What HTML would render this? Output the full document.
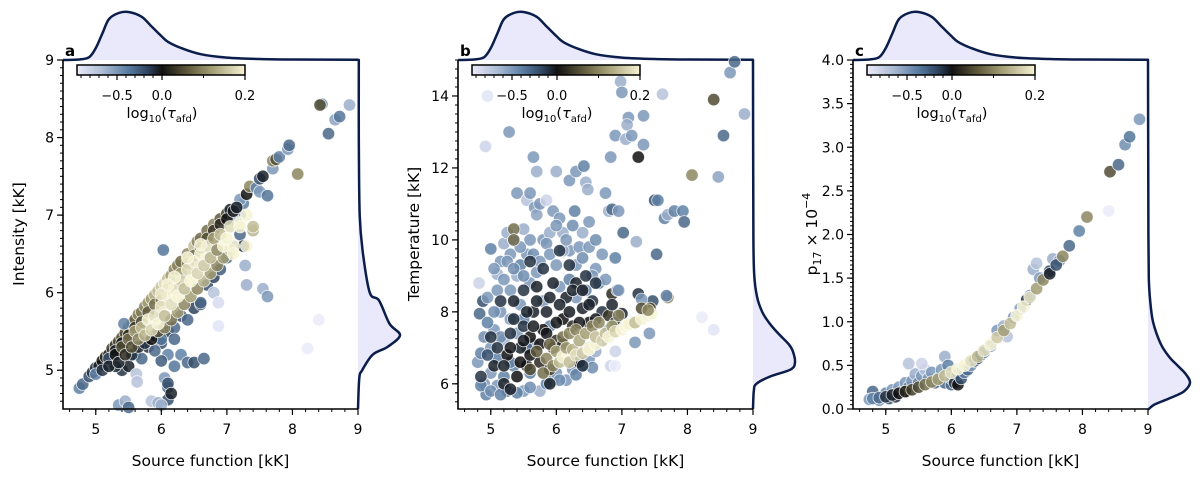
<!DOCTYPE html>
<html><head><meta charset="utf-8"><style>
html,body{margin:0;padding:0;background:#fff;}
svg{display:block;font-family:"DejaVu Sans","Liberation Sans",sans-serif;}
</style></head><body>
<svg id="fig" width="1200" height="478" viewBox="0 0 1200 478" xmlns="http://www.w3.org/2000/svg">
<defs>
<linearGradient id="cmap" x1="0" x2="1" y1="0" y2="0">
<stop offset="0" stop-color="#ebebfa"/><stop offset="0.15" stop-color="#aebdd6"/><stop offset="0.3" stop-color="#5b7ea3"/><stop offset="0.42" stop-color="#2e4560"/><stop offset="0.506" stop-color="#111111"/><stop offset="0.65" stop-color="#5b5538"/><stop offset="0.8" stop-color="#a29c72"/><stop offset="1" stop-color="#f6f3d4"/>
</linearGradient>
</defs>
</svg>
<script>
const kdeTopGrid = [4.5,4.75,4.9,5.0,5.1,5.2,5.35,5.5,5.7,5.85,6.0,6.1,6.3,6.6,7.0,7.5,8.0,9.0];
const kdeTopDens = [0,0.01,0.06,0.25,0.55,0.85,0.98,1.0,0.9,0.7,0.5,0.38,0.25,0.12,0.05,0.02,0.01,0.005];
const kdeAGrid = [4.5,4.9,5.0,5.2,5.3,5.45,5.6,5.9,6.0,6.5,7.0,8.0,9.0];
const kdeADens = [0,0.03,0.1,0.35,0.7,1.0,0.75,0.5,0.28,0.12,0.04,0.02,0.02];
const kdeBGrid = [5.3,5.8,6.0,6.2,6.4,6.6,6.9,7.1,7.4,7.7,8.0,8.4,9.0,10.0,12.0,15.0];
const kdeBDens = [0,0.02,0.08,0.4,0.9,1.0,0.95,0.85,0.6,0.38,0.22,0.1,0.03,0.01,0.005,0];
const kdeCGrid = [0,0.05,0.12,0.2,0.3,0.4,0.5,0.6,0.75,1.0,1.25,1.5,2.0,3.0,4.0];
const kdeCDens = [0.02,0.15,0.5,0.85,1.0,0.9,0.7,0.5,0.3,0.12,0.05,0.02,0.01,0.005,0];

const ptsA = [
[4.75,4.77,-0.4],[4.8,4.82,-0.3],[4.9,4.92,-0.2],[4.95,4.97,-0.1],[5.0,5.03,-0.1],[5.05,5.05,-0.05],[5.1,5.12,0],[5.15,5.17,0.02],[5.2,5.2,0.02],[5.25,5.28,0.03],[5.3,5.32,0.04],[5.35,5.37,0.05],[5.4,5.42,0.06],[5.45,5.48,0.05],[5.5,5.55,0.06],[5.55,5.6,0.08],[5.6,5.65,0.07],[5.65,5.72,0.1],[5.7,5.75,0.09],[5.75,5.82,0.1],[5.8,5.87,0.12],[5.85,5.92,0.12],[5.9,5.97,0.14],[5.95,6.02,0.15],[6.0,6.08,0.16],[6.05,6.12,0.18],[6.1,6.18,0.15],[6.15,6.22,0.12],[6.2,6.3,0.1],[6.25,6.35,0.1],[6.3,6.4,0.08],[6.4,6.5,0.1],[6.5,6.6,0.15],[6.55,6.66,0.1],[6.6,6.7,0.08],[6.7,6.8,0.08],[6.8,6.88,0.1],[6.9,6.95,0.06],[7.0,7.02,0.04],[7.05,7.07,-0.05],
[5.4,5.0,-0.1],[5.5,5.05,-0.05],[5.6,5.2,-0.2],[5.7,5.15,-0.3],[5.8,5.3,-0.1],[5.9,5.45,-0.05],[6.0,5.35,-0.2],[6.1,5.5,-0.1],[6.2,5.55,-0.3],[6.3,5.7,-0.2],[6.4,5.65,-0.3],[6.5,5.8,-0.15],[6.6,5.85,-0.1],[6.7,6.1,-0.2],[6.8,6.2,-0.15],[6.9,6.3,-0.25],[7.0,6.45,-0.3],[7.1,6.6,-0.4],[7.2,6.75,-0.3],[7.2,7.0,-0.4],[7.25,7.15,-0.4],[5.0,4.95,-0.4],[5.2,5.15,-0.2],[5.3,5.05,-0.1],[6.0,5.4,-0.35],[6.1,5.2,-0.4],[6.2,5.05,-0.35],[6.05,4.9,-0.5],[6.1,4.78,-0.3],[6.1,4.83,-0.2],[6.1,4.62,-0.2],[6.15,4.7,-0.05],[6.2,5.4,-0.3],[6.3,5.2,-0.4],[6.4,5.1,-0.3],[6.5,5.1,-0.2],[6.65,5.15,-0.3],[6.0,5.12,-0.25],[5.9,5.25,-0.3],
[6.03,6.55,-0.35],[5.43,5.6,-0.4],[5.35,4.55,-0.5],[5.45,4.6,-0.6],[5.5,4.52,-0.3],[5.62,4.95,-0.7],[5.63,4.85,-0.7],[5.85,4.6,-0.7],[5.95,4.58,-0.6],[6.0,4.55,-0.6],[6.6,5.87,-0.3],[6.8,6.0,-0.7],[6.87,5.87,-0.85],[6.87,5.57,-0.9],[7.28,6.35,-0.6],[7.3,6.1,-0.6],[7.55,6.05,-0.6],[7.62,5.95,-0.5],[8.4,5.65,-0.95],[8.23,5.28,-0.95],[7.4,6.8,-0.7],[7.2,7.2,-0.5],[7.1,6.95,-0.6],[7.25,6.6,-0.1],
[5.3,5.25,-0.05],[5.4,5.35,0.0],[5.5,5.45,0.02],[5.6,5.55,0.03],[5.7,5.62,0.05],[5.8,5.75,0.06],[5.9,5.85,0.08],[6.0,5.9,0.1],[6.1,6.05,0.12],[6.2,6.12,0.1],[6.3,6.25,0.12],[6.4,6.38,0.1],[6.5,6.48,0.08],[6.6,6.58,0.06],[6.7,6.7,0.05],[6.8,6.8,0.03],[6.9,6.88,0.02],[7.0,6.95,0.0],[7.1,7.05,-0.02],[7.15,7.1,-0.05],[5.55,5.2,-0.1],[5.65,5.3,-0.05],[5.75,5.35,-0.1],[5.85,5.4,0],[5.95,5.5,0.05],[6.05,5.55,0.1],[6.15,5.65,0.08],[6.25,5.75,0.12],[6.35,5.85,0.1],[6.45,5.95,0.12],[6.55,6.05,0.1],[6.65,6.15,0.14],[6.75,6.25,0.12],[6.85,6.35,0.1],[6.95,6.45,0.12],[7.05,6.55,0.15],
[5.1,5.0,-0.1],[5.2,5.05,-0.05],[5.3,5.2,0],[5.35,5.1,-0.05],[5.4,5.3,0.05],[5.45,5.2,0.02],[5.5,5.4,0.08],[5.55,5.3,0.05],[5.6,5.5,0.12],[5.65,5.4,0.1],[5.7,5.55,0.15],[5.75,5.45,0.14],[5.8,5.65,0.2],[5.85,5.52,0.17],[5.9,5.7,0.18],[5.95,5.6,0.2],[6.0,5.82,0.19],[6.05,5.7,0.15],[6.1,5.95,0.2],[6.15,5.85,0.18],[6.2,6.05,0.19],[6.25,5.95,0.2],[6.3,6.15,0.17],[6.35,6.05,0.15],[6.4,6.3,0.18],[6.45,6.15,0.2],[6.5,6.4,0.19],[6.55,6.25,0.17],[6.6,6.5,0.2],[6.65,6.35,0.16],[6.7,6.6,0.18],[6.75,6.45,0.14],[6.8,6.7,0.12],[6.85,6.55,0.1],[6.9,6.75,0.15],[6.95,6.6,0.2],[7.05,6.85,0.18],[7.1,6.6,0.2],[7.2,6.9,0.2],[7.3,7.0,0.2],[7.4,6.8,0.15],[7.0,6.7,0.2],[6.6,6.62,0.22],[6.4,6.45,0.21],[6.2,6.2,0.2],[6.0,5.98,0.19],[6.1,6.1,0.2],
[7.3,6.6,0.22],[7.4,6.85,0.15],[7.2,6.85,0.2],[7.1,6.5,0.25],[7.3,7.27,0],[7.35,7.37,0.1],[7.45,7.35,-0.4],[7.5,7.47,-0.2],[7.55,7.5,-0.05],[7.5,7.3,-0.5],[7.62,7.25,-0.35],[7.7,7.6,-0.5],[7.7,7.7,0.1],[7.75,7.72,0.05],[7.8,7.75,-0.4],[7.93,7.85,-0.5],[7.95,7.9,-0.3],[8.08,7.53,0.1],[8.45,8.43,-0.45],[8.42,8.42,0.05],[8.55,8.05,-0.3],[8.65,8.23,-0.55],[8.72,8.27,-0.35],[8.87,8.42,-0.6]
];
const ptsB = [
[5.0,9.75,-0.4],[5.1,9.05,-0.6],[5.15,9.4,-0.5],[5.2,9.9,-0.6],[5.25,10.2,-0.6],[5.3,9.6,-0.5],[5.35,10.0,-0.4],[5.4,11.3,-0.5],[5.45,9.3,-0.4],[5.5,10.3,-0.6],[5.55,11.1,-0.7],[5.6,11.3,-0.5],[5.65,12.3,-0.5],[5.67,10.9,-0.5],[5.7,10.7,-0.55],[5.7,11.9,-0.6],[5.75,11.0,-0.5],[5.8,10.0,-0.5],[5.85,11.1,-0.8],[5.9,10.2,-0.6],[5.95,10.8,-0.5],[6.0,11.9,-0.6],[6.05,10.6,-0.5],[6.1,10.2,-0.6],[6.2,11.65,-0.5],[6.3,11.9,-0.5],[6.28,10.8,-0.4],[6.42,12.05,-0.4],[6.45,11.6,-0.6],[6.48,11.4,-0.6],[6.5,10.5,-0.5],[6.4,10.2,-0.6],[6.2,9.7,-0.5],[6.3,9.3,-0.5],[6.6,9.2,-0.5],[6.75,11.3,-0.5],[6.8,10.8,-0.6],[6.85,10.85,-0.3],[6.95,10.8,-0.5],[7.02,10.2,-0.3],[7.22,9.95,-0.6],[6.9,9.5,-0.4],[7.5,11.1,-0.2],[7.55,11.1,-0.4],[7.65,10.6,-0.4],[7.7,10.7,-0.6],[7.8,10.8,-0.4],[7.93,10.8,-0.4],[7.95,10.5,-0.3],[7.53,9.6,-0.3],[4.82,8.8,-0.8],[5.28,13.0,-0.5],[4.92,12.6,-0.8],[4.95,14.0,-0.9],[6.83,12.3,-0.5],[6.9,12.9,-0.5],[7.06,12.8,-0.6],[7.1,13.4,-0.5],[7.08,13.2,-0.6],[7.15,12.9,-0.5],[7.33,13.45,-0.5],[7.33,12.65,-0.5],[7.25,12.3,0],[6.98,14.4,-0.6],[7.0,14.1,-0.5],[7.62,14.05,-0.7],[8.4,13.9,0.05],[8.55,12.9,-0.3],[8.65,14.65,-0.5],[8.72,14.95,-0.3],[8.87,13.5,-0.6],[8.47,11.75,-0.55],[8.07,11.8,0.1],[8.22,7.85,-0.95],[8.4,7.5,-0.9],[7.7,8.4,0.1],[7.68,8.45,-0.4],[7.47,8.3,-0.2],[7.25,8.5,-0.1],[7.3,8.35,-0.5],[6.85,8.5,0.02],[6.93,8.6,-0.3],[7.43,8.1,0.05],[7.42,7.4,-0.5],[7.2,7.15,-0.5],[6.83,6.5,-0.8],[6.9,6.5,-0.95],[6.9,6.9,-0.8],
[4.8,6.6,-0.5],[4.85,6.85,-0.4],[4.9,6.0,-0.5],[4.93,5.7,-0.4],[5.0,6.3,-0.5],[5.0,7.0,-0.5],[5.05,7.5,-0.5],[5.1,5.95,-0.5],[5.1,6.7,-0.4],[5.15,8.0,-0.5],[5.2,7.2,-0.6],[5.2,6.2,-0.4],[5.25,5.8,-0.3],[5.3,7.8,-0.5],[5.3,8.6,-0.5],[5.35,6.5,-0.4],[5.4,7.4,-0.5],[5.4,9.0,-0.6],[5.45,8.2,-0.5],[5.5,5.8,-0.5],[5.5,7.8,-0.4],[5.55,9.6,-0.5],[5.6,8.8,-0.5],[5.6,6.3,-0.4],[5.65,7.1,-0.4],[5.7,9.1,-0.5],[5.75,5.8,-0.6],[5.8,8.3,-0.5],[5.85,9.9,-0.5],[5.9,7.6,-0.4],[5.95,6.1,-0.5],[6.0,9.3,-0.5],[6.0,6.3,-0.5],[6.05,8.7,-0.5],[6.1,9.7,-0.6],[6.15,6.1,-0.5],[6.2,8.9,-0.4],[6.25,6.4,-0.5],[6.3,8.4,-0.5],[6.35,9.8,-0.5],[6.4,6.5,-0.4],[6.45,8.6,-0.4],[6.5,6.7,-0.5],[6.55,9.0,-0.5],[6.6,6.9,-0.6],[6.65,8.8,-0.4],[6.7,7.2,-0.5],[6.75,8.9,-0.5],[6.8,7.5,-0.5],[6.95,8.6,-0.5],[6.95,7.9,-0.4],[4.83,7.95,-0.3],[4.88,8.3,-0.2],[4.95,8.4,-0.5],[5.05,9.2,-0.5],
[4.9,7.3,-0.45],[4.95,7.7,-0.4],[5.05,8.0,-0.45],[5.1,8.6,-0.5],[5.15,7.3,-0.45],[5.2,8.9,-0.5],[5.25,9.4,-0.5],[5.3,6.6,-0.4],[5.35,9.2,-0.45],[5.45,9.8,-0.5],[5.5,9.0,-0.45],[5.6,10.0,-0.5],[5.65,9.6,-0.45],[5.75,9.4,-0.5],[5.9,9.6,-0.5],[6.0,10.4,-0.5],[6.15,10.0,-0.5],[6.25,10.4,-0.45],[6.4,9.5,-0.45],[6.5,9.8,-0.5],[6.6,10.0,-0.45],[6.7,9.6,-0.5],[4.85,5.95,-0.4],[5.0,5.8,-0.45],[5.15,5.7,-0.4],[5.4,5.75,-0.4],[5.6,5.9,-0.45],[5.85,6.0,-0.4],[6.05,6.1,-0.45],[6.3,6.25,-0.4],[6.55,6.45,-0.45],[5.55,7.0,-0.3],
[4.85,6.2,-0.1],[4.95,6.8,-0.2],[5.0,7.3,-0.1],[5.05,6.5,-0.05],[5.1,7.0,-0.1],[5.15,8.3,-0.1],[5.2,6.0,-0.05],[5.25,6.8,0],[5.3,7.4,-0.1],[5.35,8.3,-0.05],[5.4,6.2,0],[5.45,7.0,-0.05],[5.5,7.6,-0.1],[5.5,8.6,-0.1],[5.55,6.5,0],[5.6,7.3,0],[5.65,8.0,-0.05],[5.7,8.7,-0.05],[5.75,6.6,0.02],[5.8,7.5,0],[5.8,9.2,-0.1],[5.85,8.0,-0.05],[5.9,6.4,0.03],[5.95,8.8,-0.05],[6.0,7.2,0.02],[6.05,9.7,-0.1],[6.1,7.8,0],[6.15,8.4,-0.05],[6.2,9.3,-0.1],[6.25,7.6,0.02],[6.3,8.8,-0.05],[6.35,6.6,0],[6.4,8.1,-0.05],[6.45,9.0,-0.1],[6.5,7.7,0],[6.55,8.3,-0.1],[6.6,8.8,-0.1],[6.7,8.0,-0.1],[6.8,7.9,0.03],[6.85,8.2,-0.05],[6.9,7.7,-0.1],[7.0,7.95,-0.05],[5.35,10.3,0.08],[5.35,10.0,0.08],[5.6,9.4,-0.1],[5.9,6.0,-0.05],[5.3,5.85,-0.05],[6.4,6.5,-0.1],
[5.2,6.5,-0.05],[5.3,7.0,-0.02],[5.35,7.8,-0.08],[5.45,6.6,0],[5.5,7.2,-0.02],[5.55,8.0,-0.05],[5.6,6.8,0],[5.65,7.6,-0.03],[5.7,8.3,-0.05],[5.75,7.1,0],[5.85,7.4,-0.02],[5.9,8.4,-0.05],[5.95,7.0,0.02],[6.0,7.7,-0.02],[6.05,8.2,-0.05],[6.1,7.1,0.02],[6.2,8.0,-0.03],[6.25,8.6,-0.06],[6.35,7.7,-0.02],[6.4,8.6,-0.05],[6.5,8.2,-0.05],[6.6,7.8,-0.02],
[5.6,6.4,0.05],[5.7,6.9,0.06],[5.8,6.3,0.08],[5.85,6.7,0.1],[5.9,7.1,0.07],[5.95,6.5,0.1],[6.0,6.9,0.12],[6.05,6.6,0.15],[6.1,7.3,0.08],[6.1,6.75,0.2],[6.15,7.0,0.12],[6.2,6.6,0.15],[6.2,7.4,0.1],[6.25,6.95,0.14],[6.3,6.8,0.18],[6.3,7.5,0.1],[6.35,7.2,0.13],[6.4,6.85,0.16],[6.45,7.4,0.12],[6.5,7.0,0.18],[6.5,6.95,0.2],[6.55,7.6,0.1],[6.6,7.1,0.2],[6.6,7.3,0.15],[6.65,7.7,0.1],[6.7,7.2,0.17],[6.75,7.4,0.15],[6.8,7.3,0.2],[6.85,7.6,0.12],[6.9,7.45,0.17],[6.95,7.9,0.1],[7.0,7.5,0.2],[7.05,7.6,0.2],[7.1,7.65,0.22],[7.2,7.7,0.15],[7.3,7.8,0.2],[7.4,7.9,0.25],[7.45,7.95,0.22],[7.3,8.1,0.05],[7.4,8.05,0.1]
];
const ptsC = [
[5.0,0.18,-0.4],[5.05,0.12,-0.2],[5.1,0.22,-0.5],[5.15,0.14,-0.1],[5.2,0.25,-0.5],[5.25,0.2,-0.4],[5.3,0.3,-0.5],[5.35,0.25,-0.4],[5.4,0.32,-0.5],[5.45,0.4,-0.6],[5.5,0.3,-0.4],[5.55,0.38,-0.5],[5.6,0.45,-0.7],[5.65,0.35,-0.5],[5.7,0.42,-0.5],[5.75,0.3,-0.3],[5.8,0.35,-0.4],[5.85,0.45,-0.5],[5.9,0.6,-0.6],[5.9,0.3,-0.3],[5.95,0.5,-0.4],[6.0,0.28,-0.3],[6.0,0.35,-0.5],[6.05,0.3,-0.1],[6.1,0.28,0],[6.1,0.4,-0.3],[6.15,0.35,-0.2],[6.2,0.42,-0.4],[6.25,0.45,-0.3],[6.3,0.5,-0.5],[6.35,0.55,-0.3],[6.4,0.58,-0.1],[6.45,0.62,-0.2],[6.5,0.65,-0.4],[6.6,0.72,-0.5],[6.7,0.9,-0.5],[6.8,0.95,-0.6],[6.85,0.83,-0.7],[6.95,1.05,-0.5],[7.05,1.15,-0.5],[7.15,1.25,-0.1],[7.2,1.3,-0.5],[7.25,1.6,-0.6],[7.3,1.67,-0.7],[7.35,1.5,-0.5],[7.5,1.58,-0.2],[7.55,1.72,-0.6],[7.65,1.7,-0.5],[5.35,0.52,-0.7],[5.55,0.52,-0.8],[4.8,0.2,-0.3],[4.9,0.1,-0.5],[5.3,0.2,0.0],
[4.75,0.11,-0.5],[4.8,0.12,-0.4],[4.9,0.13,-0.3],[5.0,0.14,-0.1],[5.1,0.16,-0.05],[5.2,0.18,0],[5.3,0.2,0.02],[5.4,0.22,0.04],[5.5,0.25,0.05],[5.6,0.28,0.08],[5.7,0.31,0.1],[5.8,0.34,0.12],[5.9,0.38,0.15],[6.0,0.42,0.18],[6.1,0.46,0.2],[6.2,0.5,0.2],[6.3,0.55,0.18],[6.4,0.6,0.15],[6.5,0.67,0.18],[6.6,0.74,0.2],[6.7,0.82,0.16],[6.8,0.9,0.12],[6.9,0.98,0.15],[7.0,1.07,0.2],[7.1,1.17,0.22],[7.2,1.28,0.18],[7.3,1.38,0.12],[7.4,1.48,0.1],[7.5,1.55,-0.05],[7.6,1.65,-0.2],[7.7,1.75,0.1],[7.8,1.87,-0.3],[7.95,2.04,-0.4],[8.07,2.2,0.1],[8.4,2.27,-0.95],[8.42,2.72,0.05],[8.55,2.8,-0.3],[8.65,3.03,-0.45],[8.72,3.12,-0.35],[8.87,3.32,-0.5]
];
const xTickLabels = ["5","6","7","8","9"];
const yTicksA = ["5","6","7","8","9"];
const yTicksB = ["6","8","10","12","14"];
const yTicksC = ["0.0","0.5","1.0","1.5","2.0","2.5","3.0","3.5","4.0"];
const cbarTicks = ["-0.5","0.0","0.2"];

const NS="http://www.w3.org/2000/svg";
const svg=document.getElementById('fig');
function mk(tag,attrs,parent){const e=document.createElementNS(NS,tag);for(const k in attrs)e.setAttribute(k,attrs[k]);(parent||svg).appendChild(e);return e;}

const stops=[[0,[235,235,250]],[0.15,[174,189,214]],[0.3,[91,126,163]],[0.42,[46,69,96]],[0.506,[17,17,17]],[0.65,[91,85,56]],[0.8,[162,156,114]],[1,[246,243,212]]];
function normC(v){let f=v<=0?0.506+v*(90/168):0.506+(v/0.2)*0.494;return Math.max(0,Math.min(1,f));}
function cmap(v){const f=normC(v);for(let i=1;i<stops.length;i++){if(f<=stops[i][0]){const a=stops[i-1],b=stops[i];const t=(f-a[0])/(b[0]-a[0]);const c=a[1].map((x,j)=>Math.round(x+(b[1][j]-x)*t));return `rgb(${c[0]},${c[1]},${c[2]})`;}}return 'rgb(246,243,212)';}
// smooth path through points (Catmull-Rom)
function smooth(P){let d=`M${P[0][0].toFixed(1)},${P[0][1].toFixed(1)}`;for(let i=0;i<P.length-1;i++){const p0=P[Math.max(0,i-1)],p1=P[i],p2=P[i+1],p3=P[Math.min(P.length-1,i+2)];const c1=[p1[0]+(p2[0]-p0[0])/6,p1[1]+(p2[1]-p0[1])/6],c2=[p2[0]-(p3[0]-p1[0])/6,p2[1]-(p3[1]-p1[1])/6];d+=` C${c1[0].toFixed(1)},${c1[1].toFixed(1)} ${c2[0].toFixed(1)},${c2[1].toFixed(1)} ${p2[0].toFixed(1)},${p2[1].toFixed(1)}`;}return d;}

function panel(cfg){
  const g=mk('g',{});
  
  
  const sx=v=>cfg.L+(v-4.5)/(9-4.5)*(cfg.R-cfg.L);
  const sy=v=>cfg.B-(v-cfg.y0)/(cfg.y1-cfg.y0)*(cfg.B-cfg.T);
  const TP=kdeTopGrid.map((s,i)=>[sx(s),cfg.T-kdeTopDens[i]*48]);
  const d=smooth(TP);
  const topFill=mk('path',{d:d+` L${cfg.R},${cfg.T} L${cfg.L},${cfg.T} Z`,fill:'#e9e9fb',stroke:'none'},g);
  
  
  const topLine=mk('path',{d:d+` L${cfg.R},${cfg.T}`,fill:'none',stroke:'#0b1d4a','stroke-width':2.5,'stroke-linejoin':'round'},g);
  
  
  const RP=cfg.rg.map((y,i)=>[cfg.R+cfg.rd[i]*42,sy(y)]);
  const rd=smooth(RP);
  const rFill=mk('path',{d:rd+` L${cfg.R},${cfg.T} L${cfg.R},${cfg.B} Z`,fill:'#e9e9fb',stroke:'none'},g);
  
  
  const rLine=mk('path',{d:`M${cfg.R},${cfg.B} L${RP[0][0].toFixed(1)},${RP[0][1].toFixed(1)} `+rd.slice(1)+` L${cfg.R},${cfg.T}`,fill:'none',stroke:'#0b1d4a','stroke-width':2.5,'stroke-linejoin':'round'},g);
  
  
  const pg=mk('g',{},g);
  
  
  cfg.pts.forEach(p=>{
    const c=mk('circle',{cx:sx(p[0]).toFixed(1),cy:sy(p[1]).toFixed(1),r:6.2,fill:cmap(p[2]),'fill-opacity':0.85,stroke:'#ffffff','stroke-width':0.8,'stroke-opacity':0.8},pg);
    
    
  });
  const sp=mk('path',{d:`M${cfg.L},${cfg.T} L${cfg.L},${cfg.B} L${cfg.R},${cfg.B}`,fill:'none',stroke:'#000','stroke-width':1.6},g);
  
  
  for(let v=4.6;v<9.0001;v+=0.2){const X=sx(v);mk('line',{x1:X,x2:X,y1:cfg.B,y2:cfg.B+3,stroke:'#000','stroke-width':1},g);}
  xTickLabels.forEach(l=>{const X=sx(+l);mk('line',{x1:X,x2:X,y1:cfg.B,y2:cfg.B+6,stroke:'#000','stroke-width':1.2},g);
    const t=mk('text',{x:X,y:cfg.B+25,'font-size':14,'text-anchor':'middle',fill:'#000'},g);t.textContent=l;
    
    });
  for(let v=cfg.y0+cfg.ymStart;v<=cfg.y1+1e-6;v+=cfg.ym){const Y=sy(v);mk('line',{x1:cfg.L-3,x2:cfg.L,y1:Y,y2:Y,stroke:'#000','stroke-width':1},g);}
  cfg.yt.forEach(l=>{const Y=sy(+l);mk('line',{x1:cfg.L-6,x2:cfg.L,y1:Y,y2:Y,stroke:'#000','stroke-width':1.2},g);
    const t=mk('text',{x:cfg.L-9,y:Y+5,'font-size':14,'text-anchor':'end',fill:'#000'},g);t.textContent=l;
    
    });
  const xl=mk('text',{x:(cfg.L+cfg.R)/2,y:466,'font-size':15.5,'text-anchor':'middle',fill:'#000'},g);xl.textContent='Source function [kK]';
  
  
  const yl=mk('text',{x:0,y:0,'font-size':15.5,'text-anchor':'middle',fill:'#000',transform:`translate(${cfg.yLabX},234) rotate(-90)`},g);
  yl.innerHTML=cfg.ylab;
  
  
  const lt=mk('text',{x:cfg.L+2,y:56,'font-size':15,'font-weight':'bold',fill:'#000'},g);lt.textContent=cfg.letter;
  
  
  const cx0=cfg.L+14,cw=168;
  const cb=mk('rect',{x:cx0,y:65,width:cw,height:10,fill:'url(#cmap)',stroke:'#000','stroke-width':1.5},g);
  
  
  const cpos=v=>cx0+normC(v)*cw;
  for(let v=-0.9;v<0.2001;v+=0.1){const X=cpos(v);mk('line',{x1:X,x2:X,y1:75,y2:78,stroke:'#000','stroke-width':1},g);}
  cbarTicks.forEach(l=>{const X=cpos(+l);mk('line',{x1:X,x2:X,y1:75,y2:80,stroke:'#000','stroke-width':1.2},g);
    const t=mk('text',{x:X,y:100,'font-size':13,'text-anchor':'middle',fill:'#000'},g);t.textContent=l.replace('-','\u2212');
    
    });
  const cl=mk('text',{x:cpos(0),y:118,'font-size':14.5,'text-anchor':'middle',fill:'#000'},g);
  cl.innerHTML='log<tspan font-size="10" dy="4">10</tspan><tspan dy="-4">(</tspan><tspan font-style="italic">τ</tspan><tspan font-size="10" dy="4">afd</tspan><tspan dy="-4">)</tspan>';
  
  
}
panel({letter:'a',L:63,R:358,T:60,B:409,y0:4.5,y1:9,yt:yTicksA,ym:0.1,ymStart:0.1,pts:ptsA,rg:kdeAGrid,rd:kdeADens,yLabX:24,ylab:'Intensity [kK]'});
panel({letter:'b',L:458,R:753,T:60,B:409,y0:5.3,y1:15,yt:yTicksB,ym:0.25,ymStart:0.2,pts:ptsB,rg:kdeBGrid,rd:kdeBDens,yLabX:419,ylab:'Temperature [kK]'});
panel({letter:'c',L:853,R:1148,T:60,B:409,y0:0,y1:4,yt:yTicksC,ym:0.05,ymStart:0.05,pts:ptsC,rg:kdeCGrid,rd:kdeCDens,yLabX:817,ylab:'p<tspan font-size="11" dy="4">17</tspan><tspan dy="-4"> × 10</tspan><tspan font-size="11" dy="-7">−4</tspan>'});
</script>
</body></html>
